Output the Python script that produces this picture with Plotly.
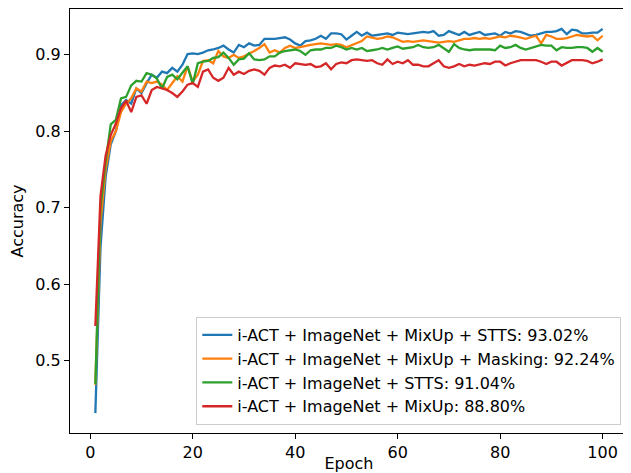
import plotly.graph_objects as go

epochs = list(range(1, 101))

names = [
    "i-ACT + ImageNet + MixUp + STTS: 93.02%",
    "i-ACT + ImageNet + MixUp + Masking: 92.24%",
    "i-ACT + ImageNet + STTS: 91.04%",
    "i-ACT + ImageNet + MixUp: 88.80%",
]
colors = ["#1f77b4", "#ff7f0e", "#2ca02c", "#d62728"]

acc_stts_mixup = [
    0.431, 0.648, 0.740, 0.783, 0.800, 0.834, 0.841, 0.836, 0.856, 0.850,
    0.863, 0.874, 0.870, 0.878, 0.876, 0.883, 0.878, 0.887, 0.901, 0.902,
    0.901, 0.903, 0.906, 0.907, 0.909, 0.912, 0.907, 0.903, 0.913, 0.910,
    0.915, 0.912, 0.913, 0.921, 0.921, 0.921, 0.922, 0.923, 0.920, 0.915,
    0.912, 0.918, 0.919, 0.921, 0.925, 0.921, 0.928, 0.928, 0.927, 0.920,
    0.925, 0.930, 0.925, 0.929, 0.925, 0.926, 0.927, 0.928, 0.926, 0.929,
    0.928, 0.927, 0.928, 0.929, 0.930, 0.929, 0.931, 0.925, 0.926, 0.931,
    0.928, 0.926, 0.930, 0.926, 0.928, 0.930, 0.926, 0.927, 0.928, 0.925,
    0.930, 0.928, 0.931, 0.930, 0.928, 0.925, 0.926, 0.928, 0.930, 0.930,
    0.931, 0.934, 0.927, 0.933, 0.932, 0.928, 0.928, 0.929, 0.929, 0.934,
]

acc_masking = [
    0.468, 0.680, 0.750, 0.787, 0.800, 0.825, 0.836, 0.843, 0.856, 0.852,
    0.865, 0.863, 0.865, 0.861, 0.854, 0.863, 0.872, 0.865, 0.885, 0.865,
    0.874, 0.892, 0.893, 0.889, 0.905, 0.898, 0.896, 0.900, 0.896, 0.898,
    0.901, 0.905, 0.909, 0.914, 0.903, 0.906, 0.903, 0.909, 0.912, 0.909,
    0.910, 0.912, 0.913, 0.914, 0.915, 0.914, 0.913, 0.914, 0.913, 0.910,
    0.913, 0.916, 0.918, 0.924, 0.923, 0.921, 0.922, 0.924, 0.923, 0.920,
    0.917, 0.918, 0.917, 0.918, 0.919, 0.918, 0.917, 0.916, 0.917, 0.918,
    0.917, 0.919, 0.921, 0.921, 0.922, 0.921, 0.922, 0.921, 0.923, 0.924,
    0.923, 0.925, 0.924, 0.923, 0.921, 0.923, 0.925, 0.915, 0.926, 0.924,
    0.921, 0.921, 0.922, 0.924, 0.926, 0.925, 0.924, 0.925, 0.919, 0.925,
]

acc_stts = [
    0.469, 0.700, 0.760, 0.809, 0.815, 0.843, 0.845, 0.860, 0.866, 0.865,
    0.876, 0.874, 0.869, 0.856, 0.871, 0.874, 0.868, 0.876, 0.885, 0.862,
    0.889, 0.891, 0.892, 0.896, 0.897, 0.903, 0.896, 0.887, 0.894, 0.895,
    0.902, 0.894, 0.893, 0.894, 0.898, 0.898, 0.903, 0.905, 0.906, 0.907,
    0.905, 0.900, 0.906, 0.907, 0.907, 0.909, 0.909, 0.912, 0.910, 0.907,
    0.909, 0.907, 0.909, 0.905, 0.906, 0.907, 0.909, 0.907, 0.909, 0.911,
    0.908, 0.909, 0.910, 0.913, 0.910, 0.909, 0.910, 0.913, 0.909, 0.904,
    0.914, 0.909, 0.907, 0.906, 0.907, 0.907, 0.907, 0.907, 0.906, 0.912,
    0.909, 0.910, 0.913, 0.909, 0.907, 0.909, 0.912, 0.913, 0.912, 0.912,
    0.906, 0.910, 0.909, 0.909, 0.910, 0.910, 0.909, 0.904, 0.909, 0.904,
]

acc_mixup = [
    0.545, 0.715, 0.768, 0.795, 0.810, 0.830, 0.840, 0.825, 0.845, 0.847,
    0.836, 0.854, 0.858, 0.856, 0.854, 0.850, 0.845, 0.852, 0.861, 0.863,
    0.858, 0.878, 0.881, 0.870, 0.866, 0.870, 0.883, 0.874, 0.878, 0.875,
    0.879, 0.881, 0.879, 0.874, 0.883, 0.886, 0.885, 0.887, 0.883, 0.889,
    0.888, 0.887, 0.888, 0.884, 0.885, 0.889, 0.881, 0.888, 0.890, 0.889,
    0.893, 0.894, 0.893, 0.892, 0.893, 0.889, 0.887, 0.894, 0.888, 0.891,
    0.889, 0.893, 0.887, 0.887, 0.885, 0.885, 0.889, 0.893, 0.885, 0.883,
    0.885, 0.888, 0.885, 0.887, 0.886, 0.888, 0.889, 0.888, 0.891, 0.891,
    0.886, 0.889, 0.891, 0.893, 0.893, 0.893, 0.893, 0.891, 0.888, 0.891,
    0.891, 0.886, 0.889, 0.893, 0.893, 0.893, 0.892, 0.889, 0.891, 0.894,
]

series = [acc_stts_mixup, acc_masking, acc_stts, acc_mixup]

x_ticks = [0, 20, 40, 60, 80, 100]
y_ticks = [0.5, 0.6, 0.7, 0.8, 0.9]

fig = go.Figure()
for name, color, ys in zip(names, colors, series):
    fig.add_trace(go.Scatter(
        x=epochs, y=ys, mode="lines", name=name,
        line=dict(color=color, width=2.3),
    ))

font = dict(family="DejaVu Sans", size=16, color="black")

# page body has an 8px default margin, so the figure is sized to fit the window
fig.update_layout(
    width=623, height=465,
    margin=dict(l=62, r=3, t=1, b=40),
    paper_bgcolor="white", plot_bgcolor="white",
    font=font,
    showlegend=True,
    legend=dict(
        x=0.988, y=0.019, xanchor="right", yanchor="bottom",
        bgcolor="rgba(255,255,255,0.8)", bordercolor="#cccccc", borderwidth=1,
        font=font, tracegroupgap=0, itemwidth=30,
    ),
)
fig.update_xaxes(
    range=[-3.95, 104.95], tickvals=x_ticks, ticktext=[str(v) for v in x_ticks],
    showline=True, linecolor="black", linewidth=1.2, mirror=True,
    ticks="outside", ticklen=5, tickwidth=1.2, tickcolor="black",
    showgrid=False, zeroline=False, automargin=False,
    title=dict(text="Epoch", font=font, standoff=4),
)
fig.update_yaxes(
    range=[0.405, 0.96], tickvals=y_ticks, ticktext=[f"{v:.1f}" for v in y_ticks],
    showline=True, linecolor="black", linewidth=1.2, mirror=True,
    ticks="outside", ticklen=5, tickwidth=1.2, tickcolor="black",
    showgrid=False, zeroline=False, automargin=False,
    title=dict(text="Accuracy", font=font, standoff=8),
)

fig.write_html("out.html")
